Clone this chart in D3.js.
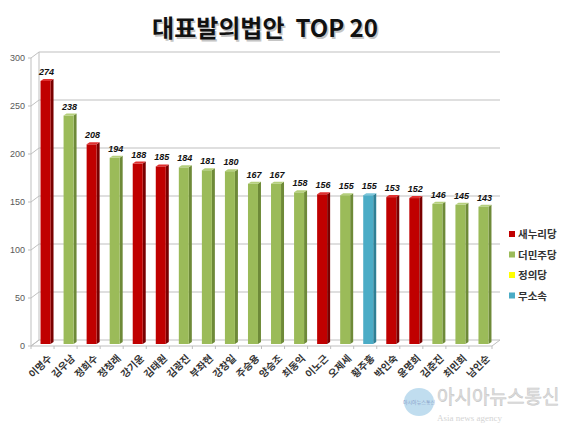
<!DOCTYPE html>
<html><head><meta charset="utf-8">
<script src="https://cdn.jsdelivr.net/npm/d3@7/dist/d3.min.js"></script>
<style>body{margin:0;background:#fff;} svg{display:block;font-family:"Noto Sans CJK KR","Noto Sans",sans-serif;} .ttl{white-space:pre;}</style>
</head><body>
<svg id="c" width="580" height="429"></svg>
<script>
const names = ["이명수","김우남","정희수","정청래","강기윤","김태원","김광진","부좌현","강창일","주승용","양승조","최동익","이노근","오제세","황주홍","박인숙","윤명희","김춘진","최민희","남인순"];
const values = [274,238,208,194,188,185,184,181,180,167,167,158,156,155,155,153,152,146,145,143];
const parties = ["새누리당","더민주당","새누리당","더민주당","새누리당","새누리당","더민주당","더민주당","더민주당","더민주당","더민주당","더민주당","새누리당","더민주당","무소속","새누리당","새누리당","더민주당","더민주당","더민주당"];
const legendParties = ["새누리당","더민주당","정의당","무소속"];
const yTicks = [0,50,100,150,200,250,300];
const title = "대표발의법안  TOP 20";

const fill = {"새누리당":"#C00000","더민주당":"#9BBB59","정의당":"#FFFF00","무소속":"#4BACC6"};
const side = {"새누리당":"#7A0000","더민주당":"#6E8A38","정의당":"#BFBF00","무소속":"#2E7F95"};
const topc = {"새누리당":"#E03030","더민주당":"#B5CF7C","정의당":"#FFFF80","무소속":"#7CC6DA"};

const svg = d3.select("#c");
const DX = 8, DY = -6; // depth of back wall
const x = d3.scaleBand().domain(names).range([31,492]).paddingInner(0).paddingOuter(0);
const y = d3.scaleLinear().domain([0,300]).range([346,58]);

// title
svg.append("text").attr("class","ttl").attr("x",265).attr("y",37).attr("text-anchor","middle")
  .attr("font-size",24).attr("font-weight","bold").attr("fill","#A0A0A0")
  .attr("transform","translate(1.5,1.5)").attr("opacity",0.6).text(title);
svg.append("text").attr("class","ttl").attr("x",265).attr("y",37).attr("text-anchor","middle")
  .attr("font-size",24).attr("font-weight","bold").attr("fill","#111").text(title);

const g = svg.append("g");
// floor
const x0 = x.range()[0], x1 = x.range()[1];
g.append("path").attr("d",`M${x0},${y(0)} L${x1},${y(0)} L${x1+DX},${y(0)+DY} L${x0+DX},${y(0)+DY} Z`)
  .attr("fill","none").attr("stroke","#BFBFBF").attr("stroke-width",1);
// back gridlines
yTicks.forEach(t=>{
  if(t>0) g.append("line").attr("x1",x0+DX).attr("x2",x1+DX).attr("y1",y(t)+DY).attr("y2",y(t)+DY)
    .attr("stroke","#BFBFBF").attr("stroke-width",1);
  g.append("line").attr("x1",x0).attr("y1",y(t)).attr("x2",x0+DX).attr("y2",y(t)+DY)
    .attr("stroke","#BFBFBF").attr("stroke-width",1);
  g.append("line").attr("x1",x0-3).attr("y1",y(t)).attr("x2",x0).attr("y2",y(t))
    .attr("stroke","#BFBFBF").attr("stroke-width",1);
  g.append("text").attr("x",25).attr("y",y(t)+3).attr("text-anchor","end")
    .attr("font-size",9).attr("fill","#595959").attr("font-family","Liberation Sans, Arial, sans-serif").text(t);
});
// left wall / axis
g.append("line").attr("x1",x0).attr("x2",x0).attr("y1",y(0)).attr("y2",y(300)).attr("stroke","#BFBFBF");
g.append("line").attr("x1",x0+DX).attr("x2",x0+DX).attr("y1",y(0)+DY).attr("y2",y(300)+DY).attr("stroke","#BFBFBF");
// x ticks on front floor
names.forEach((n,i)=>{
  const xt = x(n);
  g.append("line").attr("x1",xt).attr("x2",xt).attr("y1",y(0)).attr("y2",y(0)+3).attr("stroke","#BFBFBF");
});
g.append("line").attr("x1",x1).attr("x2",x1).attr("y1",y(0)).attr("y2",y(0)+3).attr("stroke","#BFBFBF");

// bars
const bw = 10, bdx = 3, bdy = -2, off = 3, lift = -2;
names.forEach((n,i)=>{
  const p = parties[i];
  const cx = x(n) + x.bandwidth()/2 + off;
  const l = cx - bw/2, r = cx + bw/2;
  const yb = y(0) + lift, yt = y(values[i]) + lift;
  g.append("path").attr("d",`M${r},${yb} L${r+bdx},${yb+bdy} L${r+bdx},${yt+bdy} L${r},${yt} Z`).attr("fill",side[p]);
  g.append("rect").attr("x",l).attr("y",yt).attr("width",bw).attr("height",yb-yt).attr("fill",fill[p]);
  g.append("path").attr("d",`M${l},${yt} L${r},${yt} L${r+bdx},${yt+bdy} L${l+bdx},${yt+bdy} Z`).attr("fill",topc[p]);
  g.append("text").attr("x",cx+1).attr("y",yt-6).attr("text-anchor","middle")
    .attr("font-size",9).attr("font-weight","bold").attr("font-style","italic")
    .attr("font-family","Liberation Sans, Arial, sans-serif").attr("fill","#111").text(values[i]);
  const lx = cx + 2, ly = y(0) + 8;
  g.append("text").attr("transform",`translate(${lx},${ly}) rotate(-45)`)
    .attr("text-anchor","end").attr("dy","0.7em").attr("font-size",10).attr("font-weight","bold").attr("fill","#333").text(n);
});

// legend
legendParties.forEach((p,i)=>{
  const ly = 234 + i*20.5;
  svg.append("rect").attr("x",509).attr("y",ly-3).attr("width",6).attr("height",6).attr("fill",fill[p]);
  svg.append("text").attr("x",518).attr("y",ly+4).attr("font-size",10.5).attr("font-weight","bold").attr("fill","#333").text(p);
});

// watermark
const wm = svg.append("g").attr("opacity",0.55);
wm.append("ellipse").attr("cx",419).attr("cy",402).attr("rx",15).attr("ry",14).attr("fill","#8EC3E3");
wm.append("text").attr("x",419).attr("y",404).attr("text-anchor","middle").attr("font-size",5).attr("fill","#1F4E9A").text("아시아뉴스통신");
wm.append("text").attr("x",437).attr("y",404).attr("font-size",19).attr("fill","#C8C8C8").attr("stroke","#9A9A9A").attr("stroke-width",0.6).text("아시아뉴스통신");
wm.append("text").attr("x",437).attr("y",421).attr("font-size",9).attr("font-family","Liberation Serif, serif").attr("fill","#B0B0B0").text("Asia news agency");
</script>
</body></html>
